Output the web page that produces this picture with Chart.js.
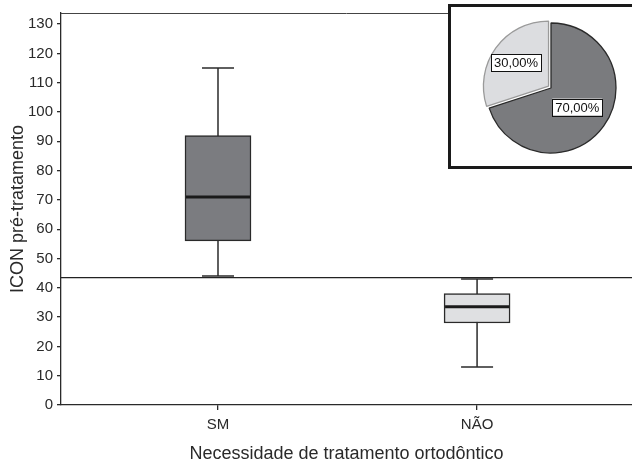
<!DOCTYPE html>
<html>
<head>
<meta charset="utf-8">
<script src="https://cdn.jsdelivr.net/npm/chart.js@4.4.0/dist/chart.umd.min.js"></script>
<style>
  html, body { margin: 0; padding: 0; background: #fff; overflow: hidden; }
  #wrap { position: relative; width: 632px; height: 465px; }
  #inset { position: absolute; left: 448px; top: 4px; width: 210px; height: 159px; border: 3px solid #1a1a1a; background: #fff; overflow: hidden; }
  #pie { position: absolute; left: 0; top: 0; }
</style>
</head>
<body>
<div id="wrap">
  <canvas id="box" width="632" height="465"></canvas>
  <div id="inset"><canvas id="pie" width="200" height="162"></canvas></div>
</div>
<script>
// box plot values
const categories = ['SM', 'NÃO'];
const whiskerLow = [44, 13];
const q1 = [56, 28];
const median = [71, 33.5];
const q3 = [92, 38];
const whiskerHigh = [115, 43];
const cutoff = 43.5;

// inset pie
const pieLabels = ['SM', 'NÃO'];
const pieValues = [70, 30];

const FONT = '"Liberation Sans", Arial, sans-serif';
const INK = '#2a2a2a';

// whiskers, caps, median and the cut-off line, drawn with the chart's own scales
const boxExtras = {
  id: 'boxExtras',
  beforeDatasetsDraw(chart) {
    const { ctx, chartArea, scales: { x, y } } = chart;
    ctx.save();
    ctx.strokeStyle = '#444';
    ctx.lineWidth = 1;
    ctx.beginPath();
    ctx.moveTo(chartArea.left, chartArea.top + 0.5);
    ctx.lineTo(chartArea.right, chartArea.top + 0.5);
    ctx.stroke();

    ctx.strokeStyle = INK;
    ctx.lineWidth = 1.5;
    categories.forEach((c, i) => {
      const cx = x.getPixelForValue(i);
      ctx.beginPath();
      ctx.moveTo(cx, y.getPixelForValue(whiskerLow[i]));
      ctx.lineTo(cx, y.getPixelForValue(whiskerHigh[i]));
      ctx.stroke();
      [whiskerLow[i], whiskerHigh[i]].forEach(v => {
        const py = y.getPixelForValue(v);
        ctx.beginPath();
        ctx.moveTo(cx - 16, py);
        ctx.lineTo(cx + 16, py);
        ctx.stroke();
      });
    });

    ctx.strokeStyle = '#222';
    ctx.lineWidth = 1.3;
    const ly = y.getPixelForValue(cutoff);
    ctx.beginPath();
    ctx.moveTo(chartArea.left, ly);
    ctx.lineTo(chartArea.right, ly);
    ctx.stroke();
    ctx.restore();
  },
  afterDatasetsDraw(chart) {
    const { ctx, scales: { x, y } } = chart;
    ctx.save();
    ctx.strokeStyle = '#1a1a1a';
    ctx.lineWidth = 3;
    categories.forEach((c, i) => {
      const cx = x.getPixelForValue(i);
      const py = y.getPixelForValue(median[i]);
      ctx.beginPath();
      ctx.moveTo(cx - 32, py);
      ctx.lineTo(cx + 32, py);
      ctx.stroke();
    });
    ctx.restore();
  }
};

new Chart(document.getElementById('box'), {
  type: 'bar',
  data: {
    datasets: [{
      data: categories.map((c, i) => ({ x: i, y: [q1[i], q3[i]] })),
      backgroundColor: ['#7b7c80', '#dfe0e2'],
      borderColor: INK,
      borderWidth: 1.5,
      borderSkipped: false,
      barThickness: 66
    }]
  },
  options: {
    responsive: false,
    animation: false,
    layout: { padding: { top: 5, right: 0, left: 0, bottom: 0 } },
    plugins: { legend: { display: false }, tooltip: { enabled: false } },
    scales: {
      x: {
        type: 'linear',
        offset: false,
        min: -0.606,
        max: 1.598,
        afterBuildTicks: s => { s.ticks = categories.map((c, i) => ({ value: i })); },
        afterFit: s => { s.height = 60; },
        ticks: { callback: v => categories[v], font: { family: FONT, size: 15 }, color: INK, padding: 6 },
        grid: { offset: false, drawOnChartArea: false, tickLength: 5, color: INK, lineWidth: 1.3 },
        border: { color: INK, width: 1.3 },
        title: { display: true, text: 'Necessidade de tratamento ortodôntico', font: { family: FONT, size: 18 }, color: INK, padding: { top: 0, bottom: 0 } }
      },
      y: {
        min: 0,
        max: 133.8,
        afterFit: s => { s.width = 61; },
        ticks: { stepSize: 10, includeBounds: false, font: { family: FONT, size: 15 }, color: INK, padding: 4 },
        grid: { drawOnChartArea: false, tickLength: 4, color: INK, lineWidth: 1.3 },
        border: { color: INK, width: 1.3 },
        title: { display: true, text: 'ICON pré-tratamento', font: { family: FONT, size: 18 }, color: INK, padding: { top: 7, bottom: 0 } }
      }
    }
  },
  plugins: [boxExtras]
});

// percent labels in small white boxes on the slices
const pieLabelsPlugin = {
  id: 'pieLabels',
  afterDatasetsDraw(chart) {
    const { ctx } = chart;
    const meta = chart.getDatasetMeta(0);
    const total = pieValues.reduce((a, b) => a + b, 0);
    ctx.save();
    ctx.font = '13px ' + FONT;
    ctx.textAlign = 'center';
    ctx.textBaseline = 'middle';
    meta.data.forEach((arc, i) => {
      const p = arc.tooltipPosition();
      const mid = (arc.startAngle + arc.endAngle) / 2;
      const off = (arc.options.offset || 0) * 0.4;
      const px = p.x + Math.cos(mid) * off;
      const py = p.y + Math.sin(mid) * off;
      const txt = (pieValues[i] / total * 100).toFixed(2).replace('.', ',') + '%';
      const w = ctx.measureText(txt).width + 6;
      const h = 17;
      ctx.fillStyle = '#fff';
      ctx.fillRect(px - w / 2, py - h / 2, w, h);
      ctx.strokeStyle = '#111';
      ctx.lineWidth = 1;
      ctx.strokeRect(Math.round(px - w / 2) + 0.5, Math.round(py - h / 2) + 0.5, Math.round(w), h);
      ctx.fillStyle = '#111';
      ctx.fillText(txt, px, py + 1);
    });
    ctx.restore();
  }
};

new Chart(document.getElementById('pie'), {
  type: 'pie',
  data: {
    labels: pieLabels,
    datasets: [{
      data: pieValues,
      backgroundColor: ['#7a7b7e', '#dcdde0'],
      borderColor: ['#2a2a2a', '#9a9a9a'],
      borderWidth: 1.3,
      offset: [0, 12],
      radius: 65
    }]
  },
  options: {
    responsive: false,
    animation: false,
    layout: { padding: 0 },
    plugins: { legend: { display: false }, tooltip: { enabled: false } }
  },
  plugins: [pieLabelsPlugin]
});
</script>
</body>
</html>
